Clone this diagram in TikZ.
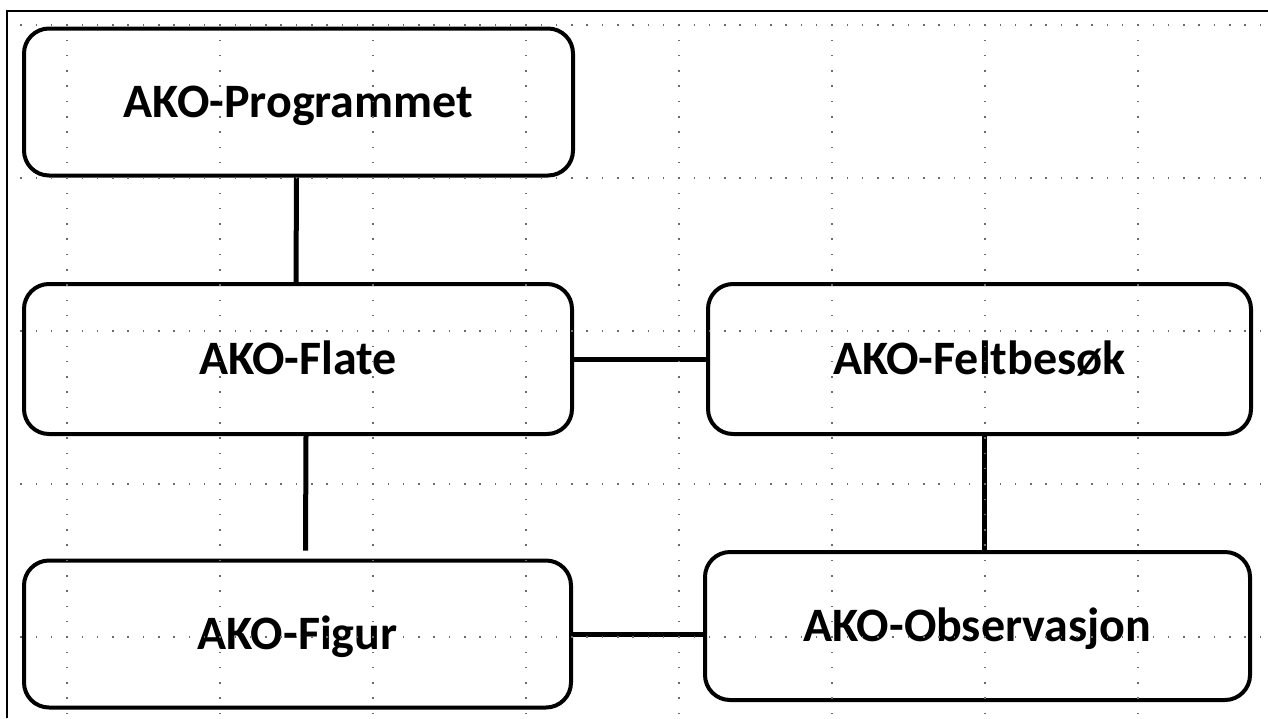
\documentclass[tikz,border=0pt]{standalone}
\usepackage{fontspec}
\setmainfont{Carlito}
\begin{document}
\begin{tikzpicture}[x=1pt,y=-1pt,
  akobox/.style={draw=black,line width=4pt,rounded corners=25pt,fill=white,
    inner sep=0pt,font=\fontsize{48}{52}\selectfont\bfseries,
    text height=30.9pt,text depth=0pt},
  link/.style={draw=black,line width=5pt},
  frame/.style={draw=black,line width=2pt},
  griddot/.style={fill=gray!85!black}]
\useasboundingbox (0,0) rectangle (1268,718);
\fill[white] (0,0) rectangle (1268,718);
% outer frame (left and top edges)
\draw[frame] (7,718) -- (7,11) -- (1268,11);

% boxes
\node[akobox,minimum width=549pt,minimum height=147pt] (prog) at (298.5,102) {AKO-Programmet};
\node[akobox,minimum width=548pt,minimum height=150pt] (flate) at (298,359) {AKO-Flate};
\node[akobox,minimum width=543pt,minimum height=150pt] (felt) at (979.5,359) {AKO-Feltbesøk};
\node[akobox,minimum width=547pt,minimum height=147pt] (figur) at (297.5,634) {AKO-Figur};
\node[akobox,minimum width=545pt,minimum height=148pt] (obs) at (977.5,626) {AKO-Observasjon};

% connectors
\draw[link] ([xshift=-2pt]prog.south) -- ([xshift=-2pt]flate.north);
\draw[link] (flate.east) -- (felt.west);
\draw[link] ([xshift=8pt]flate.south) -- ([xshift=8pt,yshift=8pt]figur.north);
\draw[link] ([xshift=4.5pt]felt.south) -- ([xshift=4.5pt]felt.south |- obs.north);
\draw[link] ([xshift=-2pt]figur.east) -- (figur.east -| obs.west);

% dotted guide grid
\foreach \gy in {25,178,331,484,637}{
  \foreach \k in {-3,...,78}{
    \fill[griddot] ({67+15.3*\k-0.75},{\gy-0.75}) rectangle ++(1.5,1.5);
  }
}
\foreach \i in {0,...,7}{
  \foreach \k in {0,...,45}{
    \fill[griddot] ({67+153*\i-0.75},{25+15.3*\k-0.75}) rectangle ++(1.5,1.5);
  }
}
\end{tikzpicture}
\end{document}
